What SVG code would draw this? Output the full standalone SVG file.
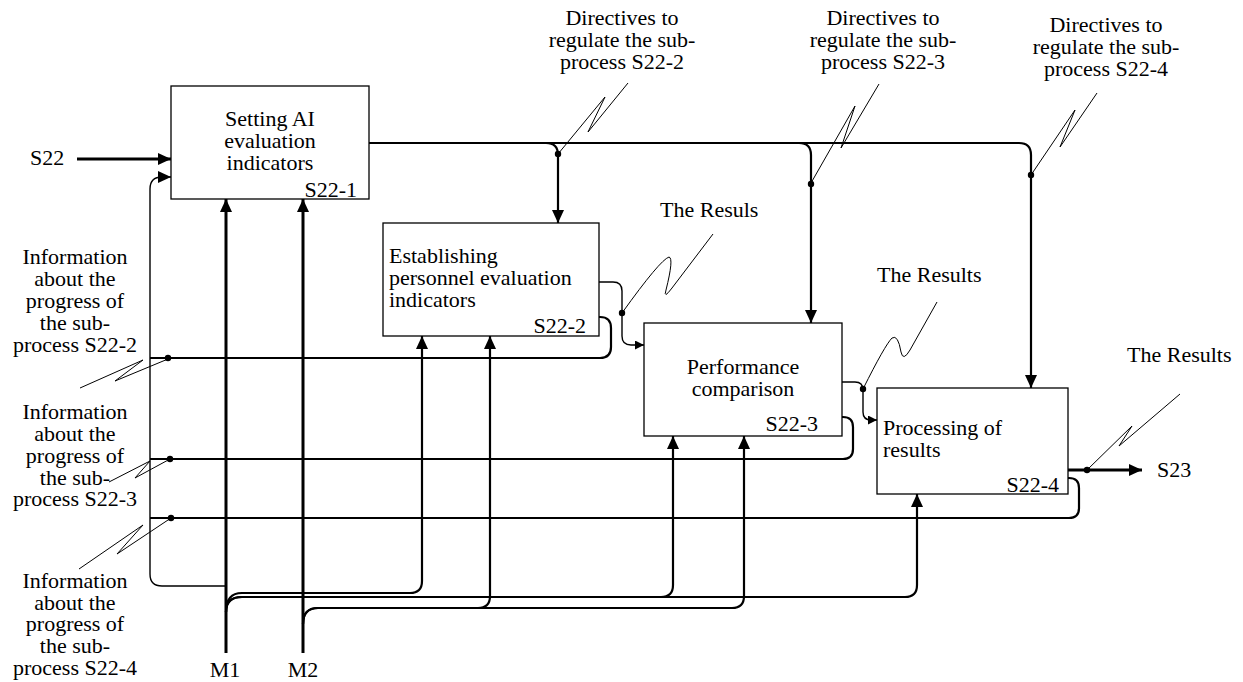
<svg xmlns="http://www.w3.org/2000/svg" width="1243" height="682" viewBox="0 0 1243 682">
<style>
text{font-family:"Liberation Serif","Times New Roman",serif;font-size:22px;fill:#000}
.c{text-anchor:middle}
.r{text-anchor:end}
.box{fill:#fff;stroke:#000;stroke-width:1.3}
.thick{fill:none;stroke:#000;stroke-width:3}
.med{fill:none;stroke:#000;stroke-width:2.2}
.thin{fill:none;stroke:#000;stroke-width:1.4}
.bolt{fill:none;stroke:#000;stroke-width:1;stroke-linejoin:round}
.dot{fill:#000}
</style>
<defs>
<marker id="aL" markerUnits="userSpaceOnUse" markerWidth="14" markerHeight="12" refX="13" refY="6" orient="auto">
<path d="M0,0 L13,6 L0,12 Z" fill="#000"/>
</marker>
<marker id="aS" markerUnits="userSpaceOnUse" markerWidth="10" markerHeight="9" refX="9" refY="4.5" orient="auto">
<path d="M0,0 L9,4.5 L0,9 Z" fill="#000"/>
</marker>
</defs>

<g id="connectors">
<!-- S22 input -->
<path class="thick" d="M77,159 L171,159" marker-end="url(#aL)"/>
<!-- feedback collector into box1 -->
<path class="thin" d="M226,586 L162,586 Q150,586 150,574 L150,189 Q150,177 162,177 L171,177" marker-end="url(#aL)"/>
<!-- M1, M2 into box1 -->
<path class="thick" d="M226,653 L226,199" marker-end="url(#aL)"/>
<path class="thick" d="M303,653 L303,199" marker-end="url(#aL)"/>
<!-- M1 bundle -->
<path class="med" d="M226,612 Q226,593 242,593 L410,593 Q422,593 422,581 L422,336" marker-end="url(#aL)"/>
<path class="med" d="M226,612 Q226,597 242,597 L661,597 Q673,597 673,585 L673,436" marker-end="url(#aL)"/>
<path class="med" d="M226,612 Q226,597 242,597 L905,597 Q917,597 917,585 L917,494" marker-end="url(#aL)"/>
<!-- M2 bundle -->
<path class="med" d="M303,624 Q303,608 318,608 L478,608 Q490,608 490,596 L490,336" marker-end="url(#aL)"/>
<path class="med" d="M303,624 Q303,608 318,608 L732,608 Q744,608 744,596 L744,436" marker-end="url(#aL)"/>
<!-- control from box1 -->
<path class="med" d="M369,143 L1019,143 Q1031,143 1031,155 L1031,388" marker-end="url(#aL)"/>
<path class="med" d="M546,143 Q558,143 558,155 L558,223" marker-end="url(#aL)"/>
<path class="med" d="M799,143 Q811,143 811,155 L811,323" marker-end="url(#aL)"/>
<!-- feedback lines -->
<path class="med" d="M150,358 L600,358 Q611,358 611,347 L611,328 Q611,317 600,317 L599,317"/>
<path class="med" d="M150,459 L843,459 Q853,459 853,449 L853,427 Q853,417 843,417 L842,417"/>
<path class="med" d="M150,518 L1069,518 Q1079,518 1079,508 L1079,488 Q1079,478 1069,478 L1068,478"/>
<!-- outputs -->
<path class="thin" d="M599,282 L613,282 Q622,282 622,291 L622,336 Q622,345 631,345 L644,345" marker-end="url(#aS)"/>
<path class="thin" d="M842,382 L855,382 Q863,382 863,390 L863,412 Q863,420 871,420 L877,420" marker-end="url(#aS)"/>
<path class="thick" d="M1068,470 L1142,470" marker-end="url(#aL)"/>
<!-- dots -->
<circle class="dot" cx="168" cy="358" r="3.2"/>
<circle class="dot" cx="170" cy="459" r="3.2"/>
<circle class="dot" cx="171" cy="518" r="3.2"/>
<circle class="dot" cx="558" cy="154" r="3.2"/>
<circle class="dot" cx="811" cy="184" r="3.2"/>
<circle class="dot" cx="1031" cy="175" r="3.2"/>
<circle class="dot" cx="622" cy="313" r="3.2"/>
<circle class="dot" cx="863" cy="389" r="3.2"/>
<circle class="dot" cx="1087" cy="470" r="3.2"/>
<!-- lightning leaders -->
<path class="bolt" d="M168,359 L115,381 L143,360 L80,388"/>
<path class="bolt" d="M170,459 L135,478 L150,461 L109,482"/>
<path class="bolt" d="M171,518 L117,554 L143,525 L79,569"/>
<path class="bolt" d="M558,154 L605,97 L588,132 L628,83"/>
<path class="bolt" d="M811,183 L855,106 L841,148 L879,84"/>
<path class="bolt" d="M1031,175 L1075,110 L1060,147 L1097,93"/>
<path class="bolt" d="M622,313 Q660,260 669,257 Q674,258 666,290 Q663,300 672,288 L713,234"/>
<path class="bolt" d="M863,389 Q885,345 892,338 Q898,334 901,352 Q903,362 910,350 L937,302"/>
<path class="bolt" d="M1087,470 L1132,426 L1119,446 L1180,394"/>
</g>

<g id="box1">
<rect class="box" x="171" y="86" width="198" height="113"/>
<text class="c" x="270" y="126">Setting AI</text>
<text class="c" x="270" y="148">evaluation</text>
<text class="c" x="270" y="170">indicators</text>
<text class="r" x="357" y="197">S22-1</text>
</g>

<g id="box2">
<rect class="box" x="383" y="223" width="216" height="113"/>
<text x="389" y="263">Establishing</text>
<text x="389" y="285">personnel evaluation</text>
<text x="389" y="307">indicators</text>
<text class="r" x="586" y="333">S22-2</text>
</g>

<g id="box3">
<rect class="box" x="644" y="323" width="198" height="113"/>
<text class="c" x="743" y="374">Performance</text>
<text class="c" x="743" y="396">comparison</text>
<text class="r" x="818" y="431">S22-3</text>
</g>

<g id="box4">
<rect class="box" x="877" y="388" width="191" height="106"/>
<text x="883" y="435">Processing of</text>
<text x="883" y="457">results</text>
<text class="r" x="1059" y="492">S22-4</text>
</g>

<g id="labels">
<text x="30" y="165">S22</text>
<text x="1157" y="477">S23</text>
<text class="c" x="225" y="677">M1</text>
<text class="c" x="303" y="677">M2</text>
<text class="c" x="75" y="264">Information</text>
<text class="c" x="75" y="286">about the</text>
<text class="c" x="75" y="308">progress of</text>
<text class="c" x="75" y="330">the sub-</text>
<text class="c" x="75" y="352">process S22-2</text>
<text class="c" x="75" y="419">Information</text>
<text class="c" x="75" y="441">about the</text>
<text class="c" x="75" y="463">progress of</text>
<text class="c" x="75" y="485">the sub-</text>
<text class="c" x="75" y="506">process S22-3</text>
<text class="c" x="75" y="588">Information</text>
<text class="c" x="75" y="610">about the</text>
<text class="c" x="75" y="631">progress of</text>
<text class="c" x="75" y="653">the sub-</text>
<text class="c" x="75" y="675">process S22-4</text>
<text class="c" x="622" y="25">Directives to</text>
<text class="c" x="622" y="47">regulate the sub-</text>
<text class="c" x="622" y="69">process S22-2</text>
<text class="c" x="883" y="25">Directives to</text>
<text class="c" x="883" y="47">regulate the sub-</text>
<text class="c" x="883" y="69">process S22-3</text>
<text class="c" x="1106" y="32">Directives to</text>
<text class="c" x="1106" y="54">regulate the sub-</text>
<text class="c" x="1106" y="76">process S22-4</text>
<text x="660" y="217">The Resuls</text>
<text x="877" y="282">The Results</text>
<text x="1127" y="362">The Results</text>
</g>
</svg>
